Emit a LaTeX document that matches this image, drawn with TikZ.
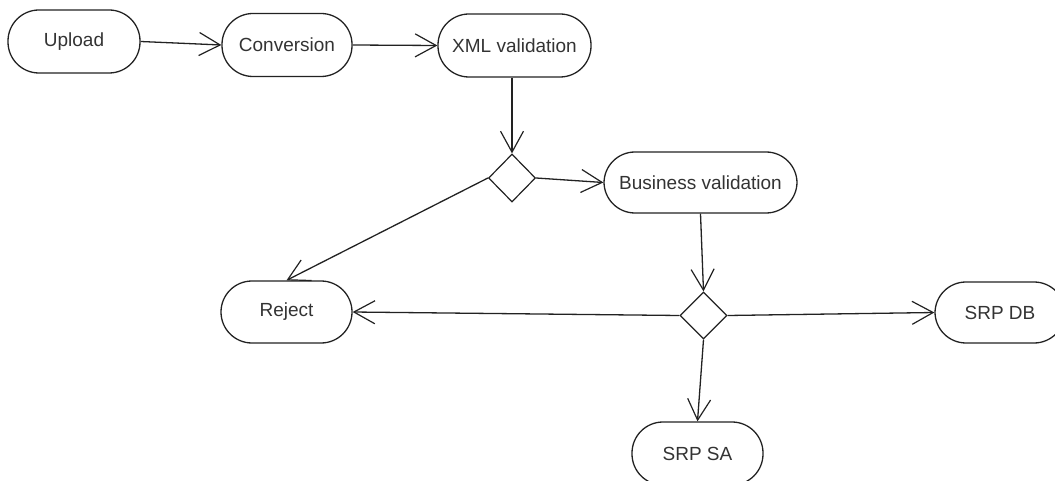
\documentclass[tikz,border=0pt]{standalone}
\usepackage{fontspec}
\setmainfont{Liberation Sans}
\usetikzlibrary{arrows.meta,shapes.geometric}
\definecolor{ink}{HTML}{222222}
\definecolor{txt}{HTML}{333333}
\tikzset{
  activity/.style={draw=ink, line width=1.3pt, rectangle, rounded corners=31pt,
    minimum height=63pt, inner sep=0pt, text=txt,
    font=\fontsize{19}{22}\selectfont},
  choice/.style={draw=ink, line width=1.2pt, diamond, inner sep=0pt,
    minimum width=47pt, minimum height=48pt},
  flow/.style={draw=ink, line width=1.3pt,
    -{Straight Barb[length=21pt,width=23pt,line width=1.2pt]}}
}
\begin{document}
\begin{tikzpicture}[x=1pt,y=-1pt]
  \useasboundingbox (0,0) rectangle (1055,481);
  % activities
  \node[activity, minimum width=132pt] (upload) at (74,41.5) {Upload};
  \node[activity, minimum width=130pt] (conv) at (287,45) {Conversion};
  \node[activity, minimum width=153pt] (xml) at (514.5,45.5) {XML validation};
  \node[activity, minimum width=193pt, minimum height=61pt] (biz) at (700.5,182.5) {Business validation};
  \node[activity, minimum width=131pt, minimum height=62pt] (reject) at (286.5,312) {Reject};
  \node[activity, minimum width=130pt, minimum height=61pt] (db) at (1000,312.5) {SRP DB};
  \node[activity, minimum width=131pt] (sa) at (697.5,453.5) {SRP SA};
  % decisions
  \node[choice] (d1) at (512,178) {};
  \node[choice, minimum width=47pt, minimum height=47pt] (d2) at (703.5,315.5) {};
  % flows
  \draw[flow] (upload.east) -- (conv.west);
  \draw[flow] (conv.east) -- (xml.west);
  \draw[flow] (xml.south -| d1.north) -- (d1.north);
  \draw[flow] (d1.east) -- (biz.west);
  \draw[flow] (d1.west) -- (reject.north);
  \draw[flow] (biz.south) -- (d2.north);
  \draw[flow] (d2.west) -- (reject.east);
  \draw[flow] (d2.east) -- (db.west);
  \draw[flow] (d2.south) -- (sa.north);
\end{tikzpicture}
\end{document}
